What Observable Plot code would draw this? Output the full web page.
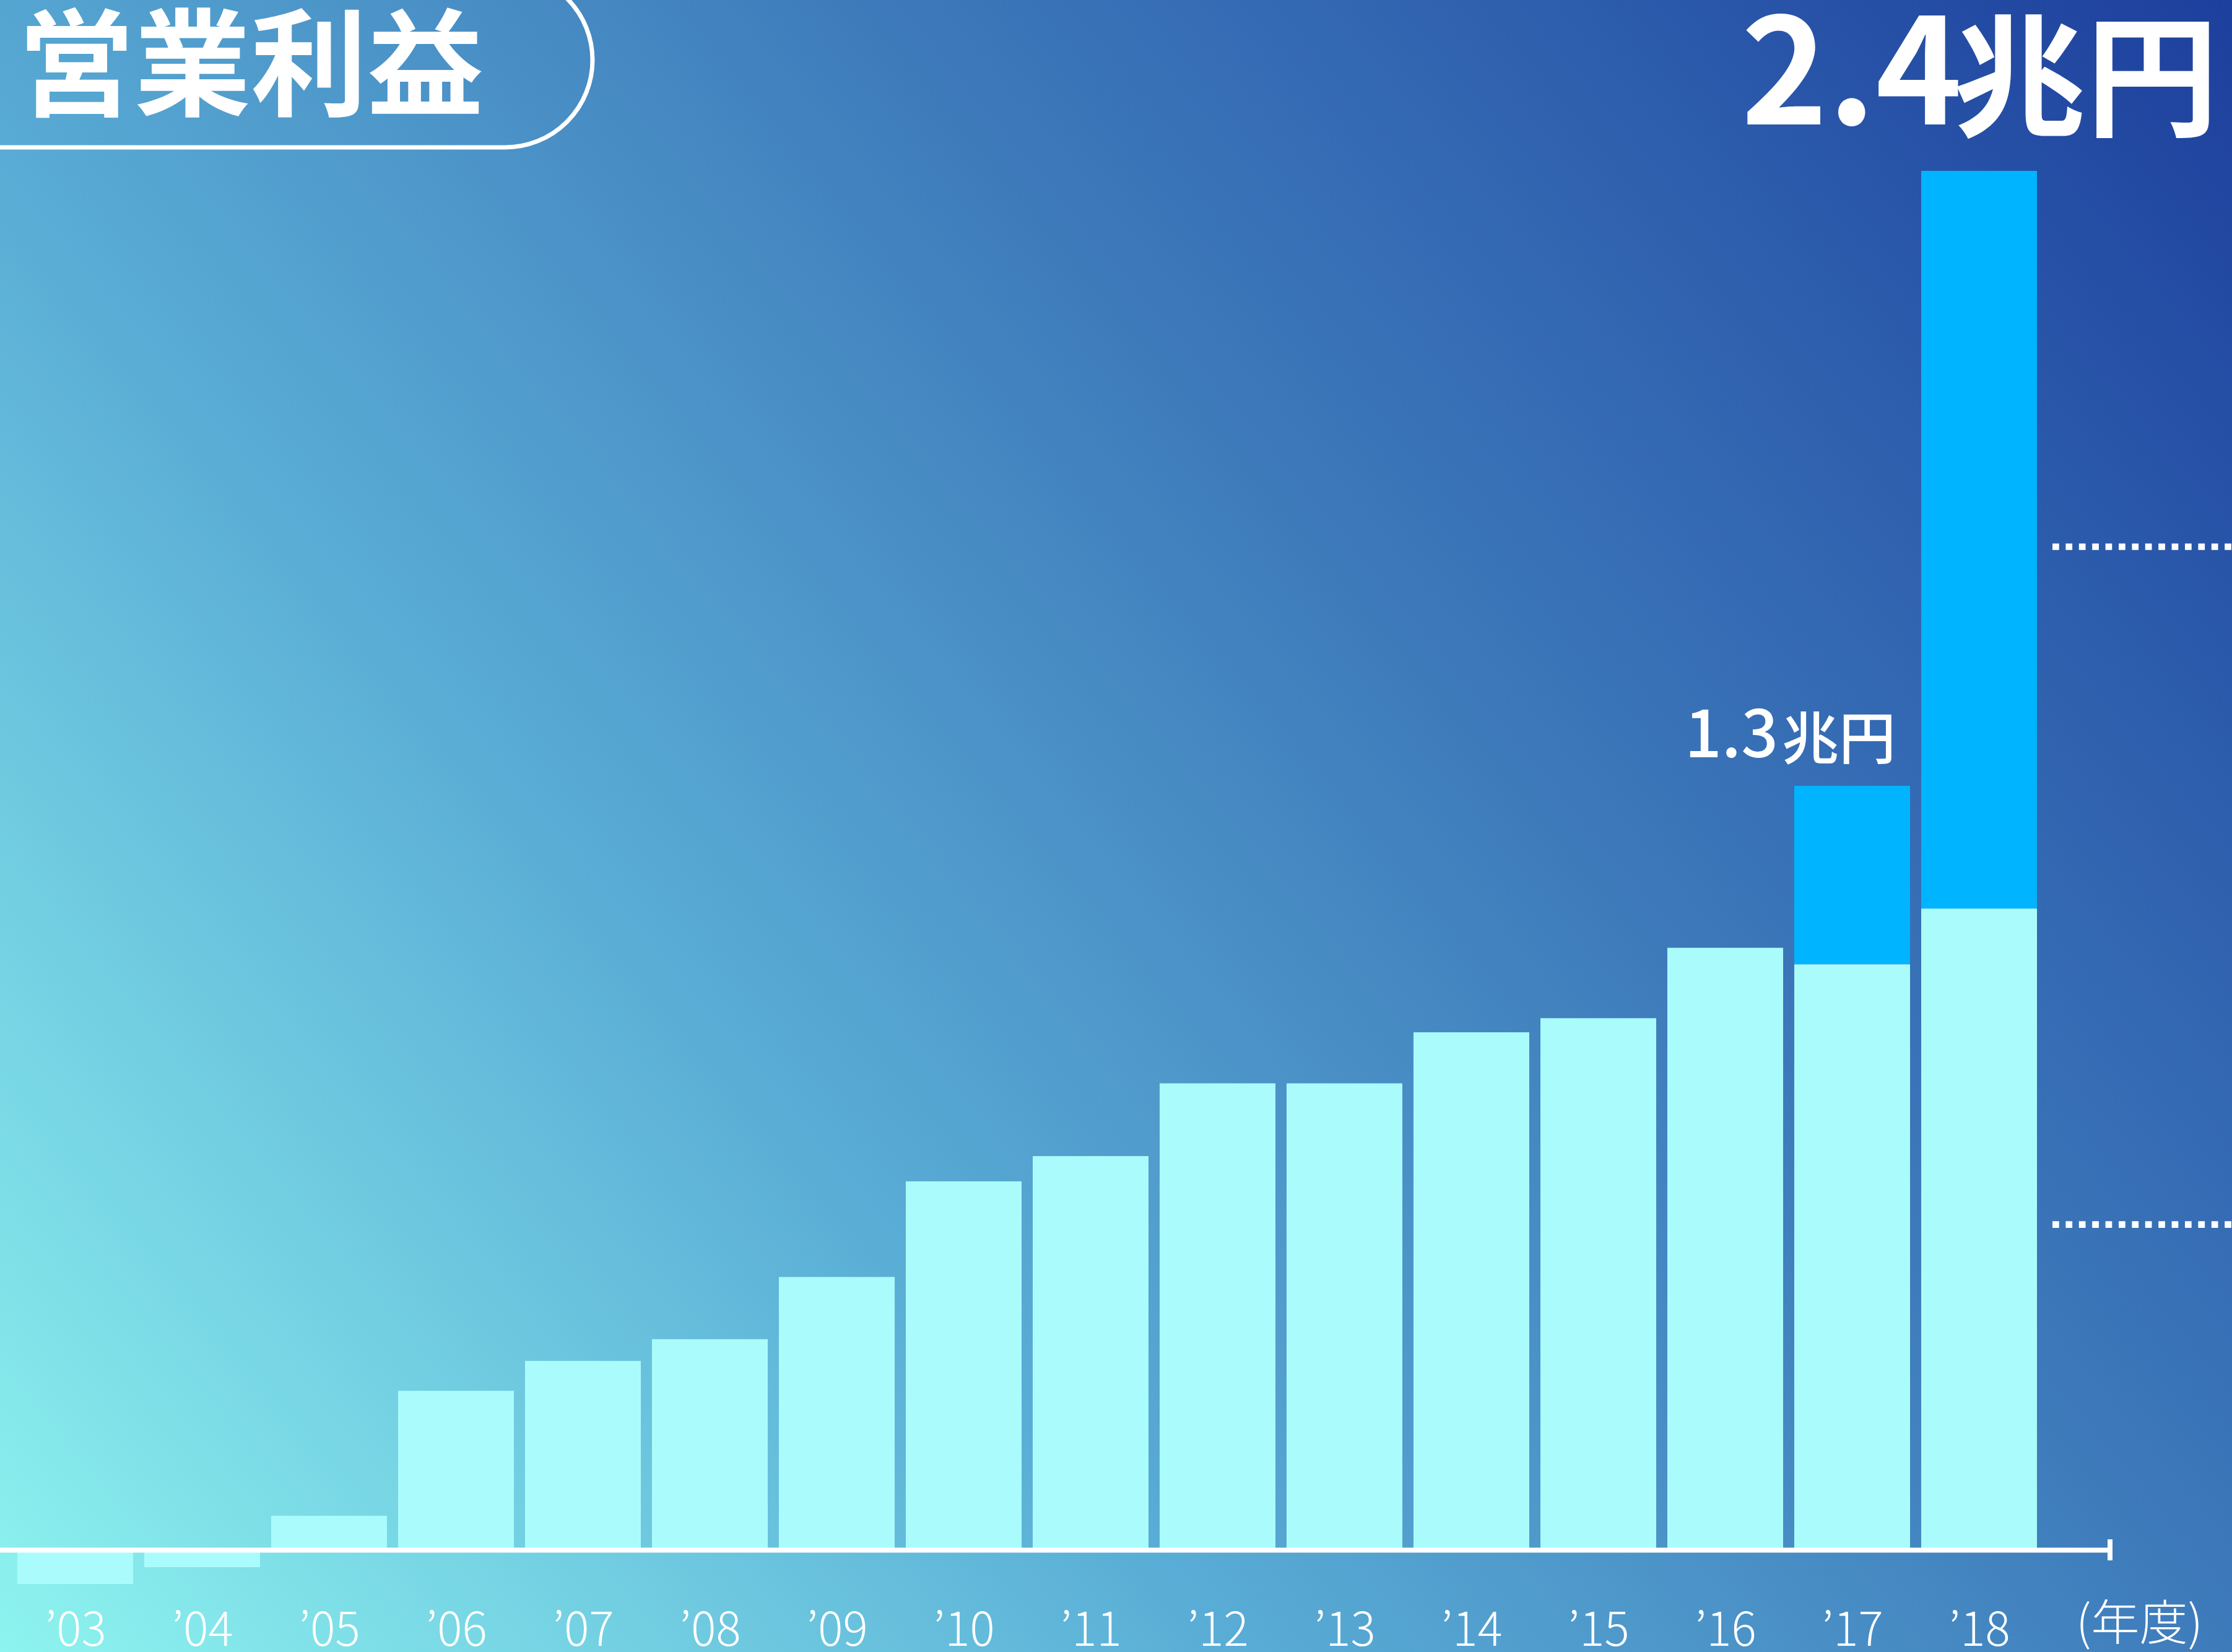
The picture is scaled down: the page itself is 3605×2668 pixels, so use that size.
<!DOCTYPE html>
<html lang="ja">
<head>
<meta charset="utf-8">
<script src="https://cdn.jsdelivr.net/npm/d3@7"></script>
<script src="https://cdn.jsdelivr.net/npm/@observablehq/plot@0.6"></script>
<style>
  html, body { margin: 0; padding: 0; }
  #wrap {
    position: relative; width: 3605px; height: 2668px; overflow: hidden;
    background: linear-gradient(50deg, #8ef4ef 0%, #5aaed6 33.6%, #3e7bbb 61.7%, #2e5fae 80.3%, #1d3f9d 100%);
  }
  #wrap svg { position: absolute; left: 0; top: 0; }
</style>
</head>
<body>
<div id="wrap"></div>
<script>
// ---- data (億円) ----
const years = ["’03","’04","’05","’06","’07","’08","’09","’10","’11","’12","’13","’14","’15","’16","’17","’18"];
const baseProfit = [-580, -295, 580, 2710, 3220, 3590, 4650, 6280, 6710, 7950, 7950, 8820, 9060, 10260, 9980, 10930];
const fundProfit = [0, 0, 0, 0, 0, 0, 0, 0, 0, 0, 0, 0, 0, 0, 3040, 12570];
const seriesNames = ["base", "fund"];
const totalYears = ["’17", "’18"];
const totalNumbers = ["1.3", "2.4"];
const totalUnit = "兆円";
const guideValues = [17100, 5550];
const title = "営業利益";
const yearUnit = "(年度)";

const rows = [];
years.forEach((yr, i) => {
  rows.push({year: yr, series: "base", value: baseProfit[i]});
  if (fundProfit[i] > 0) rows.push({year: yr, series: "fund", value: fundProfit[i]});
});
const totals = totalYears.map((yr, k) => {
  const i = years.indexOf(yr);
  return {year: yr, total: baseProfit[i] + fundProfit[i], num: totalNumbers[k], unit: totalUnit};
});
const smallTotal = totals.filter(d => d.year === "’17");
const bigTotal = totals.filter(d => d.year === "’18");

const JP = "'Noto Sans CJK JP', 'Noto Sans', sans-serif";

const plot = Plot.plot({
  width: 3605,
  height: 2668,
  marginLeft: 0,
  marginRight: 287,
  marginTop: 133.8,
  marginBottom: 70.2,
  style: {background: "transparent", overflow: "visible", fontFamily: JP},
  x: {domain: years, paddingInner: 0.0896, paddingOuter: 0.1217, axis: null},
  y: {domain: [-1000, 25000], axis: null},
  color: {domain: seriesNames, range: ["#aafcfc", "#00b4ff"]},
  marks: [
    Plot.barY(rows, {x: "year", y: "value", fill: "series"}),
    Plot.ruleY([0], {stroke: "white", strokeWidth: 8, insetRight: -90}),
    Plot.ruleY(guideValues, {stroke: "white", strokeWidth: 10.7, strokeDasharray: "10.7 10.7", insetLeft: 3315, insetRight: -287}),
    Plot.axisX({tickSize: 0, tickPadding: 6, fontSize: 75, fontWeight: 300, fill: "white", label: null, fontFamily: JP}),
    Plot.text([yearUnit], {frameAnchor: "bottom-right", dx: 137, dy: 51, textAnchor: "middle", lineAnchor: "bottom", fontSize: 78, fontWeight: 300, fill: "white", fontFamily: JP}),
    // 1.3兆円
    Plot.text(smallTotal, {x: "year", y: "total", text: "num", textAnchor: "end", lineAnchor: "bottom", dx: -120, dy: -47, fontSize: 105, fontWeight: 500, fill: "white", fontFamily: JP}),
    Plot.text(smallTotal, {x: "year", y: "total", text: "unit", textAnchor: "end", lineAnchor: "bottom", dx: 70, dy: -44, fontSize: 92, fontWeight: 500, fill: "white", fontFamily: JP}),
    // 2.4兆円
    Plot.text(bigTotal, {x: "year", y: "total", text: "num", textAnchor: "end", lineAnchor: "bottom", dx: -28, dy: -75, fontSize: 237, fontWeight: 700, fill: "white", fontFamily: JP}),
    Plot.text(bigTotal, {x: "year", y: "total", text: "unit", textAnchor: "end", lineAnchor: "bottom", dx: 386, dy: -73, fontSize: 214, fontWeight: 700, fill: "white", fontFamily: JP})
  ]
});

const svg = d3.select(plot);
const y0 = plot.scale("y").apply(0);
// end tick of the baseline
svg.append("line")
  .attr("x1", 3408).attr("x2", 3408)
  .attr("y1", y0 - 17).attr("y2", y0 + 17)
  .attr("stroke", "white").attr("stroke-width", 8);
// title pill
svg.append("rect")
  .attr("x", -200).attr("y", -44).attr("width", 1157).attr("height", 282)
  .attr("rx", 141).attr("ry", 141)
  .attr("fill", "none").attr("stroke", "white").attr("stroke-width", 7);
svg.append("text")
  .attr("x", 29).attr("y", 172)
  .attr("text-anchor", "start")
  .attr("fill", "white")
  .attr("font-family", JP).attr("font-weight", 700).attr("font-size", 188)
  .text(title);

document.getElementById("wrap").appendChild(plot);
</script>
</body>
</html>
